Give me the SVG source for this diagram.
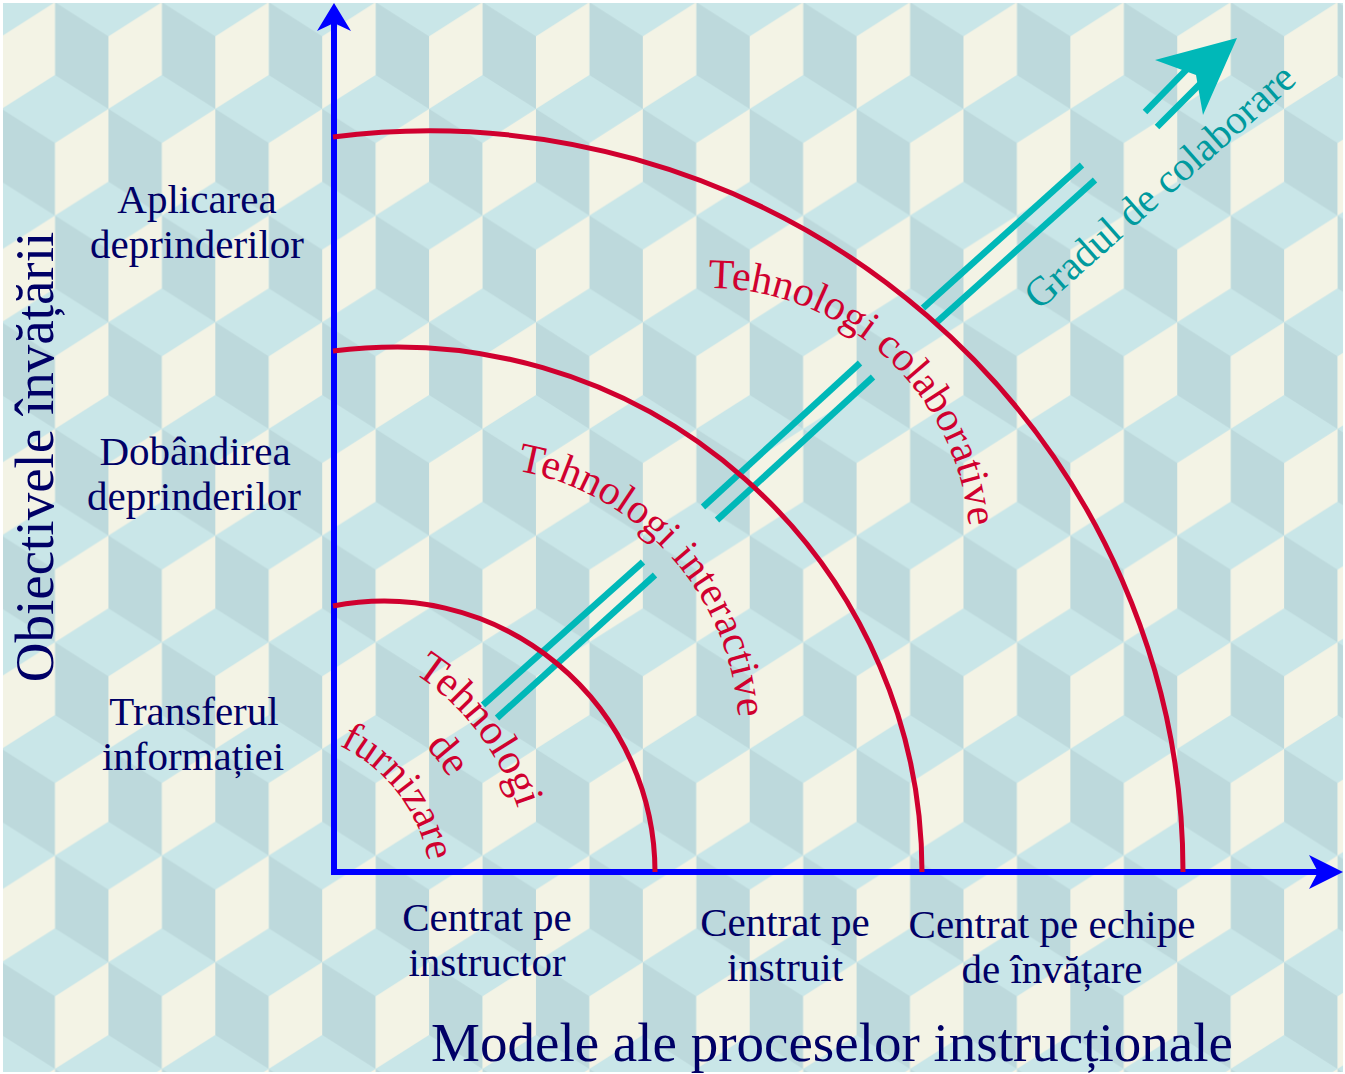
<svg xmlns="http://www.w3.org/2000/svg" width="1345" height="1074" viewBox="0 0 1345 1074">
<defs>
<style>
.lbl{font-family:"Liberation Serif","Times New Roman",serif;font-size:41px;fill:#000066;text-anchor:middle}
.title{font-family:"Liberation Serif","Times New Roman",serif;font-size:55px;fill:#000066;text-anchor:middle}
.rt{font-family:"Liberation Serif","Times New Roman",serif;font-size:42px;fill:#d0002f}
.gt{font-family:"Liberation Serif","Times New Roman",serif;font-size:41px;fill:#009a9e}
.arc{fill:none;stroke:#d0002f;stroke-width:5}
.cy{fill:none;stroke:#00b8b8;stroke-width:6.5}
.axis{fill:none;stroke:#0000ff;stroke-width:6}
.ah{fill:#0000ff}
.dk{fill:#bdd9dc}
.cr{fill:#f3f3e5}
</style>
<pattern id="cubes" patternUnits="userSpaceOnUse" x="1.56" y="75" width="106.88" height="213.33">
<rect width="106.88" height="213.33" fill="#c9e6e8"/>
<path class="dk" d="M0,34 L53.44,68 L53.44,140.67 L0,106.67 Z"/>
<path class="cr" d="M53.44,68 L106.88,34 L106.88,106.67 L53.44,140.67 Z"/>
<path class="dk" d="M53.44,140.67 L106.88,174.67 L106.88,247.33 L53.44,213.33 Z"/>
<path class="dk" d="M53.44,-72.67 L106.88,-38.67 L106.88,34 L53.44,0 Z"/>
<path class="cr" d="M0,174.67 L53.44,140.67 L53.44,213.33 L0,247.33 Z"/>
<path class="cr" d="M0,-38.67 L53.44,-72.67 L53.44,0 L0,34 Z"/>
</pattern>
<path id="pColab" d="M708,288 A262,262 0 0 1 970,550"/>
<path id="pInter" d="M516.6,470.4 A270,270 0 0 1 739,734"/>
<path id="pTeh" d="M304,632 A261,261 0 0 1 528.8,925"/>
<path id="pDe" d="M297.7,680.8 A212,212 0 0 1 480.2,918.7"/>
<path id="pFurn" d="M290.7,731.4 A161,161 0 0 1 429.6,912"/>
</defs>
<rect width="1345" height="1074" fill="#ffffff"/>
<rect x="3" y="3" width="1340" height="1069" fill="url(#cubes)"/>

<g id="connectors">
<g id="collab-arrow">
<line class="cy" x1="483" y1="705" x2="643" y2="562"/>
<line class="cy" x1="497" y1="718" x2="655" y2="575"/>
<line class="cy" x1="703" y1="507" x2="860" y2="363"/>
<line class="cy" x1="717" y1="520" x2="873" y2="377"/>
<line class="cy" x1="923" y1="308" x2="1082" y2="165"/>
<line class="cy" x1="937" y1="322" x2="1095" y2="180"/>
<line class="cy" x1="1145" y1="112" x2="1190" y2="66"/>
<line class="cy" x1="1157" y1="127" x2="1200" y2="84"/>
<polygon points="1237,38 1155,60 1196,75 1203,115" fill="#00b8b8"/>
</g>
<g id="axes">
<line class="axis" x1="334" y1="875" x2="334" y2="22"/>
<polygon class="ah" points="334,3 317,31 334,23 351,31"/>
<line class="axis" x1="331" y1="872" x2="1322" y2="872"/>
<polygon class="ah" points="1343,872 1309,855 1318,872 1309,889"/>
</g>
</g>

<g id="arcs">
<path id="arc-furnizare" class="arc" d="M333,606 A271,271 0 0 1 655,872"/>
<path id="arc-interactive" class="arc" d="M333,351 A525,525 0 0 1 922,872"/>
<path id="arc-colaborative" class="arc" d="M333,137 A754,741 0 0 1 1183,872"/>
</g>

<g id="node-colaborative"><text class="rt"><textPath href="#pColab">Tehnologi colaborative</textPath></text></g>
<g id="node-interactive"><text class="rt"><textPath href="#pInter">Tehnologi interactive</textPath></text></g>
<g id="node-furnizare">
<text class="rt" text-anchor="middle" style="font-size:43px"><textPath href="#pTeh" startOffset="50%">Tehnologi</textPath></text>
<text class="rt" text-anchor="middle"><textPath href="#pDe" startOffset="50%">de</textPath></text>
<text class="rt" text-anchor="middle"><textPath href="#pFurn" startOffset="50%">furnizare</textPath></text>
</g>
<g id="node-gradul"><text class="gt" x="1039" y="311" transform="rotate(-41.5 1039 311)">Gradul de colaborare</text></g>

<g id="node-aplicarea"><text class="lbl" x="197" y="213">Aplicarea</text><text class="lbl" x="197" y="258">deprinderilor</text></g>
<g id="node-dobandirea"><text class="lbl" x="195" y="465">Dobândirea</text><text class="lbl" x="194" y="510">deprinderilor</text></g>
<g id="node-transferul"><text class="lbl" x="194" y="725">Transferul</text><text class="lbl" x="193" y="770">informației</text></g>
<g id="node-ytitle"><text class="title" transform="translate(53 457) rotate(-90)">Obiectivele învățării</text></g>

<g id="node-instructor"><text class="lbl" x="487" y="931">Centrat pe</text><text class="lbl" x="487" y="976">instructor</text></g>
<g id="node-instruit"><text class="lbl" x="785" y="936">Centrat pe</text><text class="lbl" x="785" y="981">instruit</text></g>
<g id="node-echipe"><text class="lbl" x="1052" y="938">Centrat pe echipe</text><text class="lbl" x="1052" y="983">de învățare</text></g>
<g id="node-xtitle"><text class="title" x="832" y="1061">Modele ale proceselor instrucționale</text></g>
</svg>
